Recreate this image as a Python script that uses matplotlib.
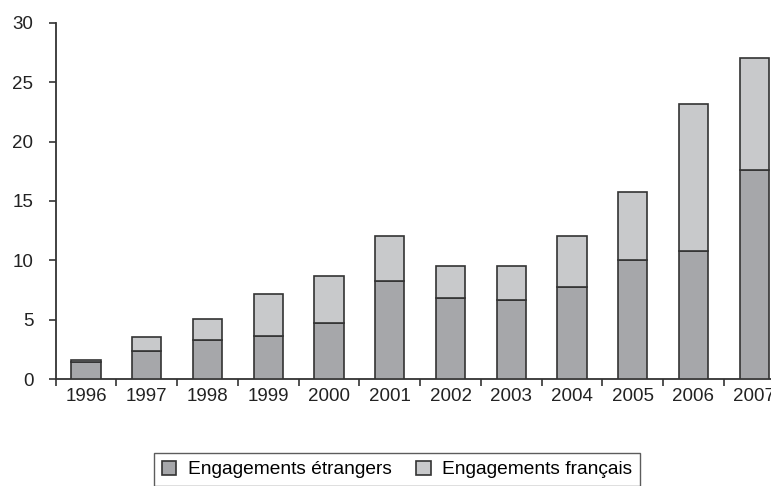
import matplotlib
matplotlib.use("Agg")
import matplotlib.pyplot as plt
import numpy as np

years = ["1996", "1997", "1998", "1999", "2000", "2001", "2002", "2003", "2004", "2005", "2006", "2007"]
etrangers = [1.45, 2.41, 3.33, 3.67, 4.76, 8.29, 6.84, 6.70, 7.79, 10.01, 10.79, 17.63]
totaux = [1.62, 3.53, 5.10, 7.15, 8.71, 12.08, 9.53, 9.53, 12.08, 15.73, 23.18, 27.00]
francais = [t - e for t, e in zip(totaux, etrangers)]

plt.rcParams['font.family'] = ['Liberation Sans', 'DejaVu Sans']

W, H = 771, 486
fig = plt.figure(figsize=(W / 100, H / 100), dpi=100)
ax = fig.add_axes([55.7 / W, 106.7 / H, (784.6 - 55.7) / W, 356.6 / H])

x = np.arange(len(years))
dark = "#a6a7aa"
light = "#c8c9cb"
edge = "#333333"
ax.bar(x, etrangers, width=0.48, color=dark, edgecolor=edge, linewidth=1.2,
       label="Engagements étrangers", zorder=3)
ax.bar(x, francais, bottom=etrangers, width=0.48, color=light, edgecolor=edge,
       linewidth=1.2, label="Engagements français", zorder=3)

ax.set_xlim(-0.5, len(years) - 0.5)
ax.set_ylim(0, 30)
ax.set_yticks([0, 5, 10, 15, 20, 25, 30])
ax.set_xticks(x)
ax.set_xticklabels(years)
ax.set_xticks(np.arange(len(years) + 1) - 0.5, minor=True)
ax.tick_params(axis='x', which='major', length=0, pad=6, labelsize=13.5, colors='#222222')
ax.tick_params(axis='x', which='minor', length=5, width=1.2, color=edge)
ax.tick_params(axis='y', length=5, width=1.2, color=edge, labelsize=13.5, labelcolor='#222222', pad=11)
for s in ['top', 'right']:
    ax.spines[s].set_visible(False)
for s in ['left', 'bottom']:
    ax.spines[s].set_color(edge)
    ax.spines[s].set_linewidth(1.3)

leg = fig.legend(loc='upper center', bbox_to_anchor=(397 / W, 1 - 453 / H), ncol=2,
                 frameon=True, fancybox=False, edgecolor=edge, fontsize=13.8,
                 handlelength=0.75, handleheight=0.75, columnspacing=1.3,
                 handletextpad=0.6, borderpad=0.4, borderaxespad=0)
leg.get_frame().set_linewidth(1.0)

fig.savefig("out.png", dpi=100)
